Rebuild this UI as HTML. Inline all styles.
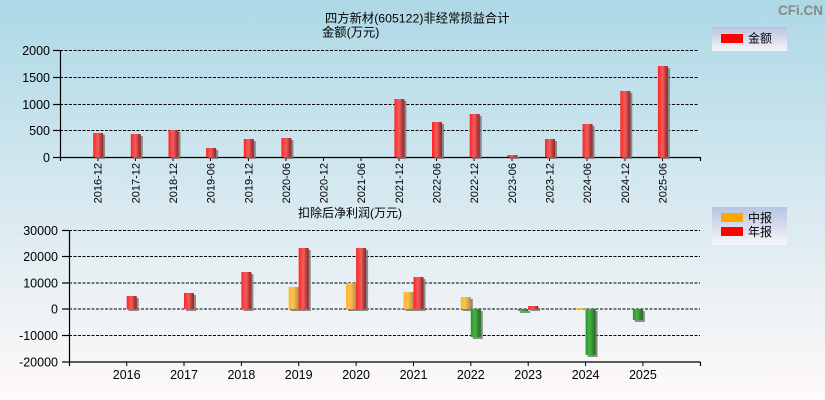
<!DOCTYPE html>
<html><head><meta charset="utf-8"><style>
html,body{margin:0;padding:0;}
body{width:825px;height:400px;overflow:hidden;}
svg{display:block;font-family:"Liberation Sans","Noto Sans CJK SC",sans-serif;}
</style></head><body>
<svg width="825" height="400" viewBox="0 0 825 400" xmlns="http://www.w3.org/2000/svg">
<defs>
<linearGradient id="bg" x1="0" y1="0" x2="0" y2="1">
<stop offset="0" stop-color="#add8e6"/><stop offset="0.5" stop-color="#d7e9f0"/><stop offset="1" stop-color="#fff9f9"/>
</linearGradient>
<linearGradient id="lg" x1="0" y1="0" x2="0" y2="1">
<stop offset="0" stop-color="#b6c4e2"/><stop offset="1" stop-color="#f7f5f9"/>
</linearGradient>
<linearGradient id="rd" x1="0" y1="0" x2="1" y2="0">
<stop offset="0" stop-color="#ff2222"/><stop offset="0.3" stop-color="#ff4848"/><stop offset="0.5" stop-color="#e86060"/><stop offset="0.75" stop-color="#c03a3a"/><stop offset="1" stop-color="#8a2a2a"/>
</linearGradient>
<linearGradient id="or" x1="0" y1="0" x2="1" y2="0">
<stop offset="0" stop-color="#ffb020"/><stop offset="0.4" stop-color="#ffc450"/><stop offset="1" stop-color="#b89048"/>
</linearGradient>
<linearGradient id="gr" x1="0" y1="0" x2="1" y2="0">
<stop offset="0" stop-color="#229a22"/><stop offset="0.4" stop-color="#48b048"/><stop offset="1" stop-color="#1e6a1e"/>
</linearGradient>
</defs>
<rect x="0" y="0" width="825" height="400" fill="url(#bg)"/>

<text x="778" y="15" font-size="13.5" font-weight="bold" fill="#888">CFi.CN</text>

<!-- Top title -->
<text x="325" y="22.5" font-size="12.3" fill="#000">四方新材(605122)非经常损益合计</text>
<text x="322" y="36.5" font-size="12.3" fill="#000">金额(万元)</text>

<!-- Top legend -->
<rect x="712" y="27" width="75" height="24" fill="url(#lg)"/>
<rect x="721" y="34" width="22" height="9" fill="#ff0000"/>
<text x="748" y="42.5" font-size="12" fill="#000">金额</text>

<!-- Top grid -->
<g stroke="#000" stroke-width="1" stroke-dasharray="3,1.5" fill="none">
<line x1="60" y1="50.5" x2="699" y2="50.5"/>
<line x1="60" y1="77.5" x2="699" y2="77.5"/>
<line x1="60" y1="104.5" x2="699" y2="104.5"/>
<line x1="60" y1="130.5" x2="699" y2="130.5"/>
</g>
<g stroke="#000" stroke-width="1.2" fill="none">
<line x1="60.5" y1="50" x2="60.5" y2="161"/>
<line x1="60" y1="157.5" x2="700.5" y2="157.5"/>
<line x1="700.5" y1="157" x2="700.5" y2="161"/>
<line x1="53" y1="50.5" x2="60" y2="50.5"/>
<line x1="53" y1="77.5" x2="60" y2="77.5"/>
<line x1="53" y1="104.5" x2="60" y2="104.5"/>
<line x1="53" y1="130.5" x2="60" y2="130.5"/>
<line x1="53" y1="157.5" x2="60" y2="157.5"/>
</g>
<g stroke="#000" stroke-width="1">
<line x1="98" y1="157" x2="98" y2="161"/><line x1="135.5" y1="157" x2="135.5" y2="161"/>
<line x1="173" y1="157" x2="173" y2="161"/><line x1="210.5" y1="157" x2="210.5" y2="161"/>
<line x1="248.5" y1="157" x2="248.5" y2="161"/><line x1="286" y1="157" x2="286" y2="161"/>
<line x1="323.5" y1="157" x2="323.5" y2="161"/><line x1="361" y1="157" x2="361" y2="161"/>
<line x1="399" y1="157" x2="399" y2="161"/><line x1="436.5" y1="157" x2="436.5" y2="161"/>
<line x1="474" y1="157" x2="474" y2="161"/><line x1="512" y1="157" x2="512" y2="161"/>
<line x1="549.5" y1="157" x2="549.5" y2="161"/><line x1="587" y1="157" x2="587" y2="161"/>
<line x1="625" y1="157" x2="625" y2="161"/><line x1="662.5" y1="157" x2="662.5" y2="161"/>
</g>
<g font-size="12.5" fill="#000" text-anchor="end">
<text x="50" y="55">2000</text>
<text x="50" y="82">1500</text>
<text x="50" y="109">1000</text>
<text x="50" y="135">500</text>
<text x="50" y="162">0</text>
</g>

<!-- Top bars: shadows -->
<g fill="#7a7a7a" opacity="0.85">
<rect x="95" y="135" width="10" height="24"/>
<rect x="132.8" y="136" width="10" height="23"/>
<rect x="170.5" y="132" width="10" height="27"/>
<rect x="208.1" y="150" width="10" height="9"/>
<rect x="245.8" y="141" width="10" height="18"/>
<rect x="283.4" y="140" width="10" height="19"/>
<rect x="396.4" y="101" width="10" height="58"/>
<rect x="434" y="124" width="10" height="35"/>
<rect x="471.7" y="116" width="10" height="43"/>
<rect x="509.3" y="157" width="10" height="2"/>
<rect x="547" y="141" width="10" height="18"/>
<rect x="584.6" y="126" width="10" height="33"/>
<rect x="622.3" y="93" width="10" height="66"/>
<rect x="659.9" y="68" width="10" height="91"/>
</g>
<g fill="url(#rd)">
<rect x="93.2" y="133" width="10" height="24"/>
<rect x="130.8" y="134" width="10" height="23"/>
<rect x="168.5" y="130" width="10" height="27"/>
<rect x="206.1" y="148" width="10" height="9"/>
<rect x="243.8" y="139" width="10" height="18"/>
<rect x="281.4" y="138" width="10" height="19"/>
<rect x="394.4" y="99" width="10" height="58"/>
<rect x="432" y="122" width="10" height="35"/>
<rect x="469.7" y="114" width="10" height="43"/>
<rect x="507.3" y="155" width="10" height="2"/>
<rect x="545" y="139" width="10" height="18"/>
<rect x="582.6" y="124" width="10" height="33"/>
<rect x="620.3" y="91" width="10" height="66"/>
<rect x="657.9" y="66" width="10" height="91"/>
</g>

<!-- Top x labels -->
<g font-size="11" fill="#000" text-anchor="end">
<text transform="translate(101.7,163) rotate(-90)">2016-12</text>
<text transform="translate(139.3,163) rotate(-90)">2017-12</text>
<text transform="translate(177,163) rotate(-90)">2018-12</text>
<text transform="translate(214.6,163) rotate(-90)">2019-06</text>
<text transform="translate(252.3,163) rotate(-90)">2019-12</text>
<text transform="translate(289.9,163) rotate(-90)">2020-06</text>
<text transform="translate(327.6,163) rotate(-90)">2020-12</text>
<text transform="translate(365.2,163) rotate(-90)">2021-06</text>
<text transform="translate(402.9,163) rotate(-90)">2021-12</text>
<text transform="translate(440.5,163) rotate(-90)">2022-06</text>
<text transform="translate(478.2,163) rotate(-90)">2022-12</text>
<text transform="translate(515.8,163) rotate(-90)">2023-06</text>
<text transform="translate(553.5,163) rotate(-90)">2023-12</text>
<text transform="translate(591.1,163) rotate(-90)">2024-06</text>
<text transform="translate(628.8,163) rotate(-90)">2024-12</text>
<text transform="translate(666.4,163) rotate(-90)">2025-06</text>
</g>

<!-- Bottom title -->
<text x="298" y="217" font-size="12" fill="#000">扣除后净利润(万元)</text>

<!-- Bottom legend -->
<rect x="712" y="207" width="75" height="38" fill="url(#lg)"/>
<rect x="721" y="213" width="22" height="9" fill="#ffa500"/>
<rect x="721" y="227" width="22" height="9" fill="#ff0000"/>
<text x="748" y="222" font-size="12" fill="#000">中报</text>
<text x="748" y="236" font-size="12" fill="#000">年报</text>

<!-- Bottom grid -->
<g stroke="#000" stroke-width="1" stroke-dasharray="3,1.5" fill="none">
<line x1="69" y1="230.5" x2="700" y2="230.5"/>
<line x1="69" y1="256.5" x2="700" y2="256.5"/>
<line x1="69" y1="283" x2="700" y2="283"/>
<line x1="69" y1="309" x2="700" y2="309"/>
<line x1="69" y1="335.5" x2="700" y2="335.5"/>
</g>
<g stroke="#000" stroke-width="1.2" fill="none">
<line x1="69.5" y1="230" x2="69.5" y2="366"/>
<line x1="69" y1="362" x2="700.5" y2="362"/>
<line x1="700.5" y1="362" x2="700.5" y2="366"/>
<line x1="62" y1="230.5" x2="69" y2="230.5"/>
<line x1="62" y1="256.5" x2="69" y2="256.5"/>
<line x1="62" y1="283" x2="69" y2="283"/>
<line x1="62" y1="309" x2="69" y2="309"/>
<line x1="62" y1="335.5" x2="69" y2="335.5"/>
<line x1="62" y1="362" x2="69" y2="362"/>
</g>
<g stroke="#000" stroke-width="1">
<line x1="126.7" y1="362" x2="126.7" y2="366"/>
<line x1="184" y1="362" x2="184" y2="366"/>
<line x1="241.4" y1="362" x2="241.4" y2="366"/>
<line x1="298.7" y1="362" x2="298.7" y2="366"/>
<line x1="356.1" y1="362" x2="356.1" y2="366"/>
<line x1="413.5" y1="362" x2="413.5" y2="366"/>
<line x1="470.8" y1="362" x2="470.8" y2="366"/>
<line x1="528.2" y1="362" x2="528.2" y2="366"/>
<line x1="585.6" y1="362" x2="585.6" y2="366"/>
<line x1="642.9" y1="362" x2="642.9" y2="366"/>
</g>
<g font-size="12.5" fill="#000" text-anchor="end">
<text x="58" y="235">30000</text>
<text x="58" y="261">20000</text>
<text x="58" y="287.5">10000</text>
<text x="58" y="313.5">0</text>
<text x="58" y="340">-10000</text>
<text x="58" y="366.5">-20000</text>
</g>
<g font-size="12.5" fill="#000" text-anchor="middle">
<text x="126.7" y="379">2016</text>
<text x="184" y="379">2017</text>
<text x="241.4" y="379">2018</text>
<text x="298.7" y="379">2019</text>
<text x="356.1" y="379">2020</text>
<text x="413.5" y="379">2021</text>
<text x="470.8" y="379">2022</text>
<text x="528.2" y="379">2023</text>
<text x="585.6" y="379">2024</text>
<text x="642.9" y="379">2025</text>
</g>

<!-- Bottom bars shadows -->
<g fill="#7a7a7a" opacity="0.85">
<rect x="128.7" y="298" width="10" height="13"/>
<rect x="186" y="295" width="10" height="16"/>
<rect x="243.4" y="274" width="10" height="37"/>
<rect x="290.7" y="289" width="10" height="22"/>
<rect x="300.7" y="250" width="10" height="61"/>
<rect x="348.1" y="285" width="10" height="26"/>
<rect x="358.1" y="250" width="10" height="61"/>
<rect x="405.5" y="294" width="10" height="17"/>
<rect x="415.5" y="279" width="10" height="32"/>
<rect x="462.8" y="299" width="10" height="12"/>
<rect x="472.8" y="311" width="10" height="28"/>
<rect x="520.2" y="311" width="10" height="2"/>
<rect x="530.2" y="308" width="10" height="3"/>
<rect x="587.6" y="311" width="10" height="46"/>
<rect x="634.9" y="311" width="10" height="11"/>
</g>
<g>
<rect x="126.7" y="296" width="10" height="13" fill="url(#rd)"/>
<rect x="184" y="293" width="10" height="16" fill="url(#rd)"/>
<rect x="241.4" y="272" width="10" height="37" fill="url(#rd)"/>
<rect x="288.7" y="287" width="10" height="22" fill="url(#or)"/>
<rect x="298.7" y="248" width="10" height="61" fill="url(#rd)"/>
<rect x="346.1" y="283" width="10" height="26" fill="url(#or)"/>
<rect x="356.1" y="248" width="10" height="61" fill="url(#rd)"/>
<rect x="403.5" y="292" width="10" height="17" fill="url(#or)"/>
<rect x="413.5" y="277" width="10" height="32" fill="url(#rd)"/>
<rect x="460.8" y="297" width="10" height="12" fill="url(#or)"/>
<rect x="470.8" y="309" width="10" height="28" fill="url(#gr)"/>
<rect x="518.2" y="309" width="10" height="2" fill="url(#gr)"/>
<rect x="528.2" y="306" width="10" height="3" fill="url(#rd)"/>
<rect x="575.6" y="308" width="10" height="1.2" fill="url(#or)"/>
<rect x="585.6" y="309" width="10" height="46" fill="url(#gr)"/>
<rect x="632.9" y="309" width="10" height="11" fill="url(#gr)"/>
</g>
</svg>
</body></html>
